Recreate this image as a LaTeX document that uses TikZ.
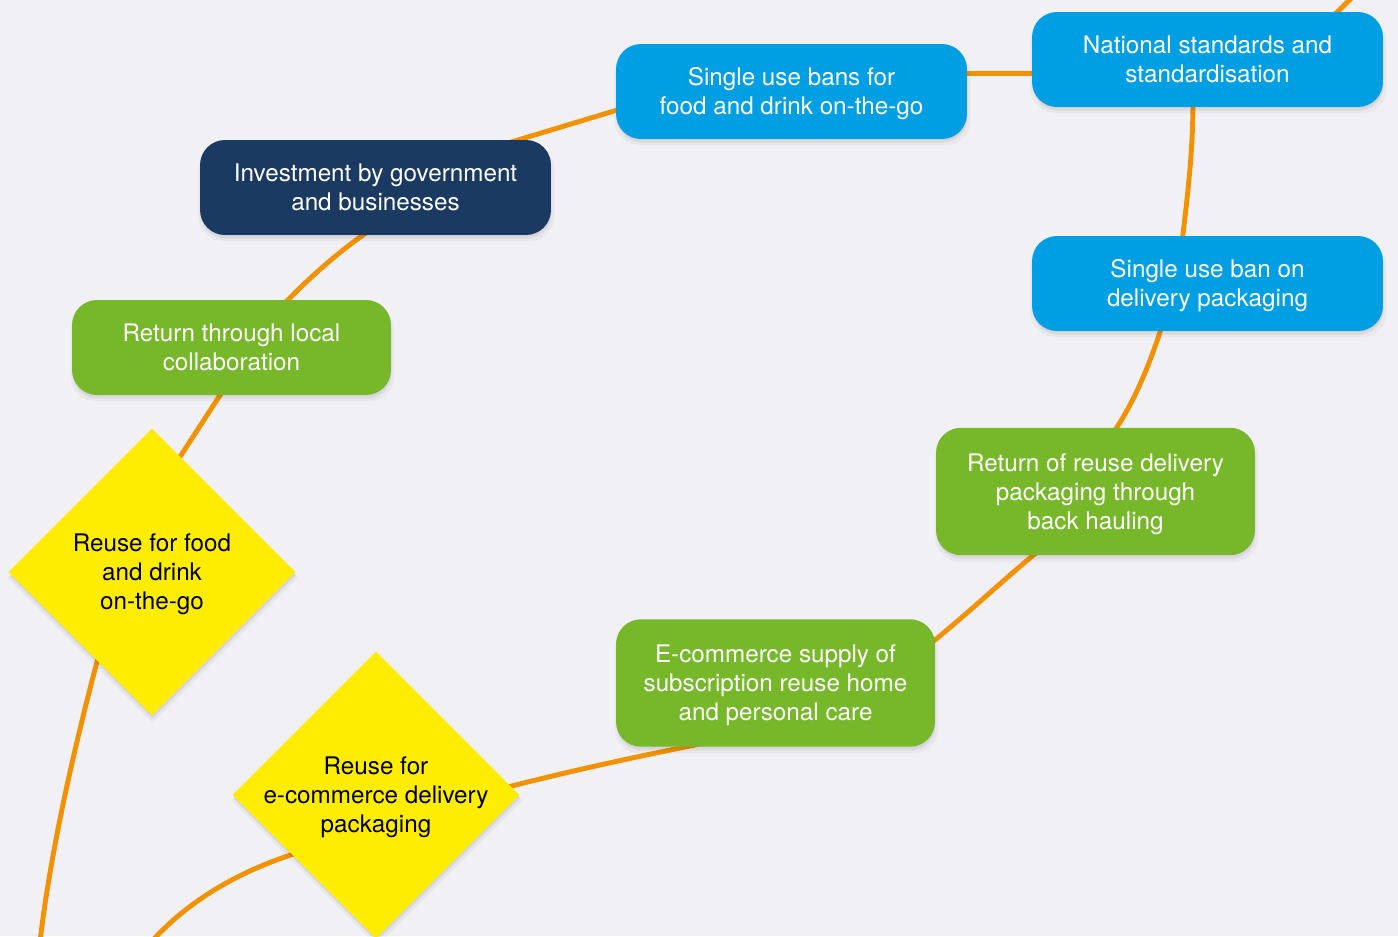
\documentclass[tikz,border=0pt]{standalone}
\usepackage{fontspec}
\setmainfont{TeX Gyre Heros}
\usetikzlibrary{shapes.geometric,calc,shadows}
\definecolor{bgc}{HTML}{F1F1F5}
\definecolor{blu}{HTML}{009FE3}
\definecolor{navy}{HTML}{1B3A61}
\definecolor{grn}{HTML}{77B82B}
\definecolor{yel}{HTML}{FFED00}
\definecolor{org}{HTML}{F39200}
\newcommand\mystrut{\rule{0pt}{13.4pt}}
\pgfdeclarelayer{bg}
\pgfdeclarelayer{edges}
\pgfsetlayers{bg,edges,main}
\begin{document}
\begin{tikzpicture}[x=0.02cm,y=-0.02cm,
  every node/.style={font=\fontsize{13.8}{16.5}\selectfont,
    execute at end node={\rule[-3.2pt]{0pt}{3.2pt}}},
  shad/.style={
    general shadow={shadow xshift=0.6pt, shadow yshift=-3.2pt, shadow scale=1.015, fill=black, opacity=0.035},
    general shadow={shadow xshift=0.4pt, shadow yshift=-2.2pt, fill=black, opacity=0.04},
    general shadow={shadow xshift=0.2pt, shadow yshift=-1.2pt, fill=black, opacity=0.04}},
  box/.style={shad, rounded corners=0.5cm, text=white, align=center, inner sep=0pt, minimum height=1.9cm},
  wide/.style={box, minimum width=7.02cm},
  narrow/.style={box, minimum width=6.38cm},
  tallbox/.style={minimum height=2.55cm},
  bluebox/.style={wide, fill=blu},
  navybox/.style={wide, fill=navy},
  greenbox/.style={narrow, fill=grn},
  dia/.style={shad, diamond, aspect=1, fill=yel, text=black, align=center, inner sep=-30pt, minimum width=5.74cm, minimum height=5.74cm},
  conn/.style={draw=org, line width=2.8pt}]
\useasboundingbox (0,0) rectangle (1398,936);
\begin{pgfonlayer}{bg}
\fill[bgc] (0,0) rectangle (1398,936);
\end{pgfonlayer}

% nodes
\node[bluebox] (bans) at (791.5,91.5) {\mystrut Single use bans for\\food and drink on-the-go};
\node[bluebox] (nat) at (1207.5,59.5) {\mystrut National standards and\\standardisation};
\node[bluebox] (sbd) at (1207.5,283.5) {\mystrut Single use ban on\\delivery packaging};
\node[navybox] (inv) at (375.5,187.5) {\mystrut Investment by government\\and businesses};
\node[greenbox] (local) at (231.5,347.5) {\mystrut Return through local\\collaboration};
\node[greenbox, tallbox] (bh) at (1095.5,491.5) {\mystrut Return of reuse delivery\\packaging through\\back hauling};
\node[greenbox, tallbox] (ecom) at (775.5,683) {\mystrut E-commerce supply of\\subscription reuse home\\and personal care};
\node[dia] (d1) at (152,572) {\mystrut Reuse for food\\and drink\\on-the-go};
\node[dia] (d2) at (376,795) {\mystrut Reuse for\\e-commerce delivery\\packaging};

\coordinate (tr) at (1368,-18);
\coordinate (bl1) at (38,960);
\coordinate (bl2) at (140,955);

% connectors
\begin{pgfonlayer}{edges}
\draw[conn] ($(d1.center)+(-50,71)$) .. controls +(-27,100) and +(10,-100) .. (bl1);
\draw[conn] ($(d1.center)+(22,-106)$) -- ($(local.center)+(-5.5,38.5)$);
\draw[conn] ($(local.center)+(50.5,-41.5)$) .. controls +(27,-28) and +(-32,21) .. ($(inv.center)+(-3.5,41.5)$);
\draw[conn] ($(inv.center)+(132.5,-44.5)$) -- ($(bans.center)+(-167.5,16.5)$);
\draw[conn] ($(bans.center)+(168.5,-18)$) -- ($(nat.center)+(-167.5,14)$);
\draw[conn] ($(nat.center)+(120.5,-38.5)$) -- (tr);
\draw[conn] ($(nat.center)+(-14.5,40.5)$) .. controls +(0,50) and +(6,-50) .. ($(sbd.center)+(-25.5,-41.5)$);
\draw[conn] ($(sbd.center)+(-44.5,39.5)$) .. controls +(-13,40) and +(24,-34) .. ($(bh.center)+(15.5,-55.5)$);
\draw[conn] ($(bh.center)+(-53.5,56.5)$) .. controls +(-38,31) and +(38,-30) .. ($(ecom.center)+(149.5,-35)$);
\draw[conn] ($(ecom.center)+(-75.5,61)$) .. controls +(-70,14) and +(70,-18) .. ($(d2.center)+(124,-6)$);
\draw[conn] ($(d2.center)+(-76,57)$) .. controls +(-65,20) and +(40,-50) .. (bl2);
\end{pgfonlayer}
\end{tikzpicture}
\end{document}
